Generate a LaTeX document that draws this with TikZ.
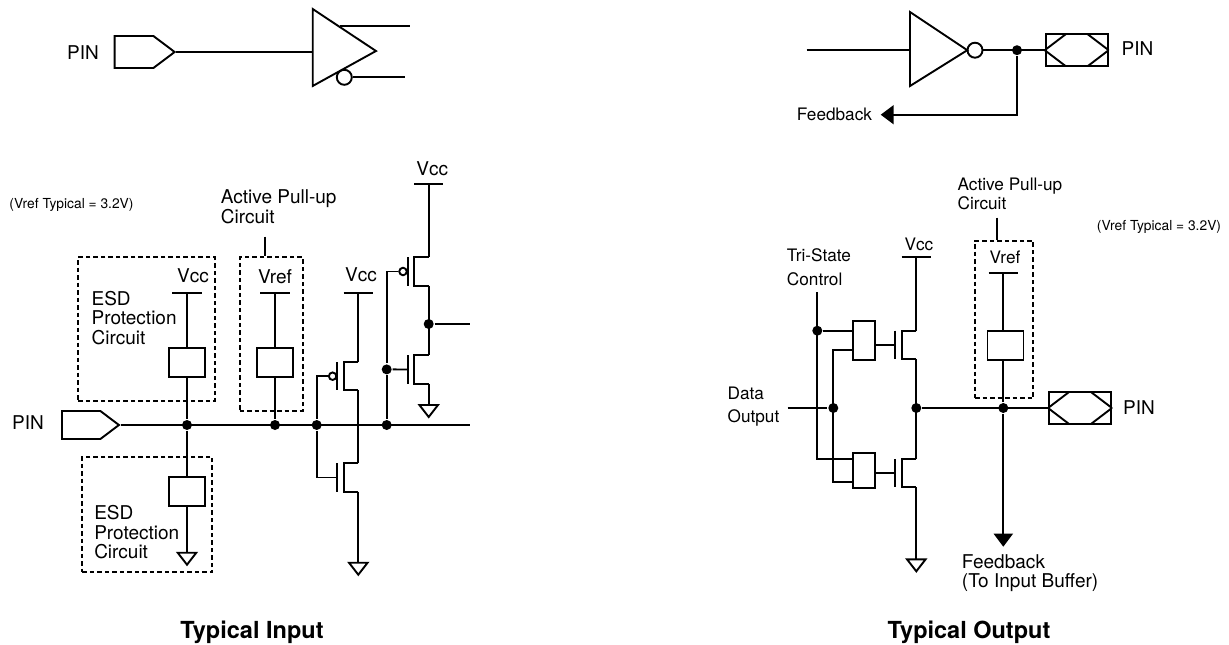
\documentclass[tikz,border=0pt]{standalone}
\usepackage{fontspec}
\setmainfont{TeX Gyre Heros}
\usepackage{tikz}
\usetikzlibrary{arrows.meta,shapes.symbols}
\tikzset{>={Triangle[length=13pt,width=19pt]}}
\tikzset{gnd/.pic={\draw[fill=white] (-9.3,0) -- (9.3,0) -- (0,12) -- cycle;}}

\begin{document}
\begin{tikzpicture}[x=1pt,y=-1pt,line width=1.9pt]
\tikzstyle{big}=[inner sep=0pt,font=\fontsize{19}{19.5}\selectfont,align=left]
\tikzstyle{mid}=[inner sep=0pt,font=\fontsize{17.2}{18.5}\selectfont,align=left]
\tikzstyle{wide}=[inner sep=0pt,font=\fontsize{17.2}{23.5}\selectfont,align=left]
\tikzstyle{tiny}=[inner sep=0pt,font=\fontsize{13.8}{14}\selectfont]
\tikzstyle{head}=[inner sep=0pt,font=\fontsize{23.5}{24}\selectfont\bfseries]
\tikzstyle{dot}=[circle,fill=black,inner sep=0pt,minimum size=10pt]
\tikzstyle{bubL}=[circle,draw,fill=white,inner sep=0pt,minimum size=15pt]
\tikzstyle{bubS}=[circle,draw,fill=white,inner sep=0pt,minimum size=7.5pt]
\tikzstyle{cell}=[rectangle,draw,fill=white,inner sep=0pt,minimum width=36pt,minimum height=29pt]
\tikzstyle{pinin}=[signal,signal to=east,draw,inner sep=0pt,signal pointer angle=74,anchor=west]
\tikzstyle{pinout}=[rectangle,draw,inner sep=0pt,minimum width=62pt,minimum height=32pt]
\tikzstyle{esd}=[rectangle,draw,dash pattern=on 4.5pt off 3pt,line width=1.8pt,inner sep=0pt]
\useasboundingbox (0,0) rectangle (1229,645);

\foreach \name/\x/\y in {railA/187/292.7,railB/275/292.7,railC/358.3/292.7,railD/428.7/183.7,railE/916.3/256.7,railF/1003.3/272.7}{
  \coordinate (\name) at (\x,\y);
  \draw (\name) +(-14.6,0) -- +(14.6,0);
}
\foreach \name/\x/\ytop in {fetA/428.7/257.3,fetB/428.7/355.3,fetC/358.3/362,fetD/358.3/463.3,fetE/916.3/330.7,fetF/916.3/459}{
  \coordinate (\name-t) at (\x,\ytop);
  \coordinate (\name-b) at (\x,\ytop+28.3);
  \coordinate (\name-g) at (\x-21,\ytop+14.2);
  \draw (\name-t) -- ++(-14.3,0) -- ++(0,28.3) -- (\name-b);
  \draw (\x-21,\ytop) -- (\x-21,\ytop+28.3);
}

\node[big] (pinLa) at (83,53) {PIN};
\node[pinin,minimum width=60pt,minimum height=32pt] (pinA) at (113.7,52) {};
\coordinate (bufAa) at (312.7,9);
\coordinate (bufAb) at (376,51);
\coordinate (bufAc) at (312.7,86);
\coordinate (bufAi) at (312.7,52);
\coordinate (outAa) at (340,26);
\coordinate (outAb) at (410,26);
\coordinate (outAc) at (405,77.3);
\node[bubL] (bubA) at (344.3,77.3) {};
\draw (bufAa) -- (bufAb) -- (bufAc) -- cycle;
\draw (pinA.east) -- (bufAi);
\draw (outAa) -- (outAb);
\draw (bubA) -- (outAc);

\node[tiny] (noteL) at (71.5,205) {(Vref Typical = 3.2V)};
\node[big,anchor=west] (apuTextL) at (220,206.5) {Active Pull-up\\Circuit};
\node[esd,minimum width=136.7pt,minimum height=143.7pt] (esdA) at (146.65,329.15) {};
\node[esd,minimum width=130pt,minimum height=115.6pt] (esdB) at (147.3,514.5) {};
\node[esd,minimum width=63pt,minimum height=153.4pt] (apuL) at (271.2,334) {};
\coordinate (apuStemL) at (265,236.7);
\draw (apuStemL) -- (apuStemL |- apuL.north);
\node[big] (vccA) at (193,276) {Vcc};
\node[big] (vrefL) at (275,276.5) {Vref};
\node[big] (vccC) at (361,275) {Vcc};
\node[big] (vccD) at (432.3,169) {Vcc};
\node[big,anchor=west] (esdTextA) at (90.7,317.7) {ESD\\Protection\\Circuit};
\node[big,anchor=west] (esdTextB) at (93.3,532.3) {ESD\\Protection\\Circuit};
\node[big] (pinLb) at (28,423) {PIN};
\node[pinin,minimum width=57pt,minimum height=28pt] (pinB) at (61,425) {};
\node[cell] (cellA) at (187,362.5) {};
\node[cell] (cellB) at (275,362.5) {};
\node[cell] (cellC) at (187,491.8) {};
\node[dot] (jA) at (187,425) {};
\node[dot] (jB) at (275,425) {};
\node[dot] (jC) at (316.7,425) {};
\node[dot] (jD) at (386.7,425) {};
\node[dot] (jE) at (386.7,369.4) {};
\node[dot] (jF) at (428.7,324) {};
\coordinate (outBa) at (470,425);
\coordinate (outBb) at (470,324);
\coordinate (gndA) at (187,552.7);
\coordinate (gndC) at (358.3,562.7);
\coordinate (gndD) at (428.7,405);
\draw (pinB.east) -- (outBa);
\draw (railA) -- (cellA) -- (jA) -- (cellC) -- (gndA);
\draw (railB) -- (cellB) -- (jB);
\draw (railC) -- (fetC-t);
\draw (fetC-b) -- (fetD-t);
\draw (fetD-b) -- (gndC);
\draw (railD) -- (fetA-t);
\draw (fetA-b) -- (fetB-t);
\draw (fetB-b) -- (gndD);
\draw (jF) -- (outBb);
\node[bubS,anchor=east] (bubC) at (fetC-g) {};
\node[bubS,anchor=east] (bubD) at (fetA-g) {};
\draw (bubC.west) -| (jC);
\draw (jC) |- (fetD-g);
\draw (bubD.west) -| (jE);
\draw (jE) -- (jD);
\draw (jE) -- (fetB-g);
\pic at (gndA) {gnd};
\pic at (gndC) {gnd};
\pic at (gndD) {gnd};

\node[head] (titleL) at (252,632) {Typical Input};

\coordinate (inT) at (806.7,50.2);
\coordinate (bufTa) at (910,12);
\coordinate (bufTb) at (967.3,50.2);
\coordinate (bufTc) at (910,86);
\coordinate (bufTi) at (910,50.2);
\node[bubL] (bubT) at (975,50.2) {};
\node[dot] (jT) at (1017,50.2) {};
\node[pinout] (pinT) at (1076.7,50.2) {};
\node[mid,anchor=east] (fbT) at (873,114.7) {Feedback};
\node[big] (pinLc) at (1137.5,48.5) {PIN};
\coordinate (tipT) at (880.7,114.7);
\draw (inT) -- (bufTi);
\draw (bufTa) -- (bufTb) -- (bufTc) -- cycle;
\draw (bubT) -- (pinT.west);
\draw[->] (jT) |- (tipT);

\node[mid,anchor=west] (apuTextR) at (956.7,194) {Active Pull-up\\Circuit};
\node[tiny] (noteR) at (1159,226.7) {(Vref Typical = 3.2V)};
\node[esd,minimum width=58.3pt,minimum height=157.6pt] (apuR) at (1004.15,319.5) {};
\coordinate (apuStemR) at (997.3,217.7);
\draw (apuStemR) -- (apuStemR |- apuR.north);
\node[mid] (vccE) at (919,244) {Vcc};
\node[mid] (vrefR) at (1005,257.3) {Vref};
\node[cell] (cellR) at (1005.5,345.5) {};
\node[wide,anchor=west] (triText) at (786,267) {Tri-State\\Control};
\node[wide,anchor=west] (dataText) at (726.7,406.5) {Data\\Output};
\node[cell,minimum width=22.6pt,minimum height=39pt] (andA) at (864,340.2) {};
\node[cell,minimum width=22.6pt,minimum height=35.3pt] (andB) at (864,470.6) {};
\coordinate (triTop) at (817.3,292.3);
\coordinate (triLow) at (817.3,459.3);
\node[dot] (jTri) at (817.3,330.7) {};
\coordinate (datTop) at (833.3,350);
\coordinate (datLow) at (833.3,481.7);
\node[dot] (jDat) at (833.3,408) {};
\coordinate (datIn) at (787.7,408);
\node[dot] (jOut) at (916.3,408) {};
\node[dot] (jPull) at (1003.3,408) {};
\node[pinout] (pinR) at (1080,408) {};
\node[big] (pinLd) at (1139,407.5) {PIN};
\coordinate (gndE) at (916.3,559.3);
\coordinate (tipR) at (1003.3,546.7);
\node[big,anchor=west] (fbText) at (961,573) {Feedback\\(To Input Buffer)};
\draw (triTop) -- (triLow) -- (triLow -| andB.west);
\draw (jTri) -- (jTri -| andA.west);
\draw (datTop -| andA.west) -- (datTop) -- (datLow) -- (datLow -| andB.west);
\draw (datIn) -- (jDat);
\draw (andA.east |- fetE-g) -- (fetE-g);
\draw (andB.east |- fetF-g) -- (fetF-g);
\draw (railE) -- (fetE-t);
\draw (fetE-b) -- (fetF-t);
\draw (fetF-b) -- (gndE);
\draw (jOut) -- (pinR.west);
\draw (railF) -- (railF |- cellR.north);
\draw (railF |- cellR.south) -- (jPull);
\draw[->] (jPull) -- (tipR);
\pic at (gndE) {gnd};

\foreach \name in {pinT,pinR}{
  \draw (\name.west) -- ++(21,-16) (\name.west) -- ++(21,16);
  \draw (\name.east) -- ++(-21,-16) (\name.east) -- ++(-21,16);
}

\node[head] (titleR) at (969,632) {Typical Output};
\end{tikzpicture}
\end{document}
